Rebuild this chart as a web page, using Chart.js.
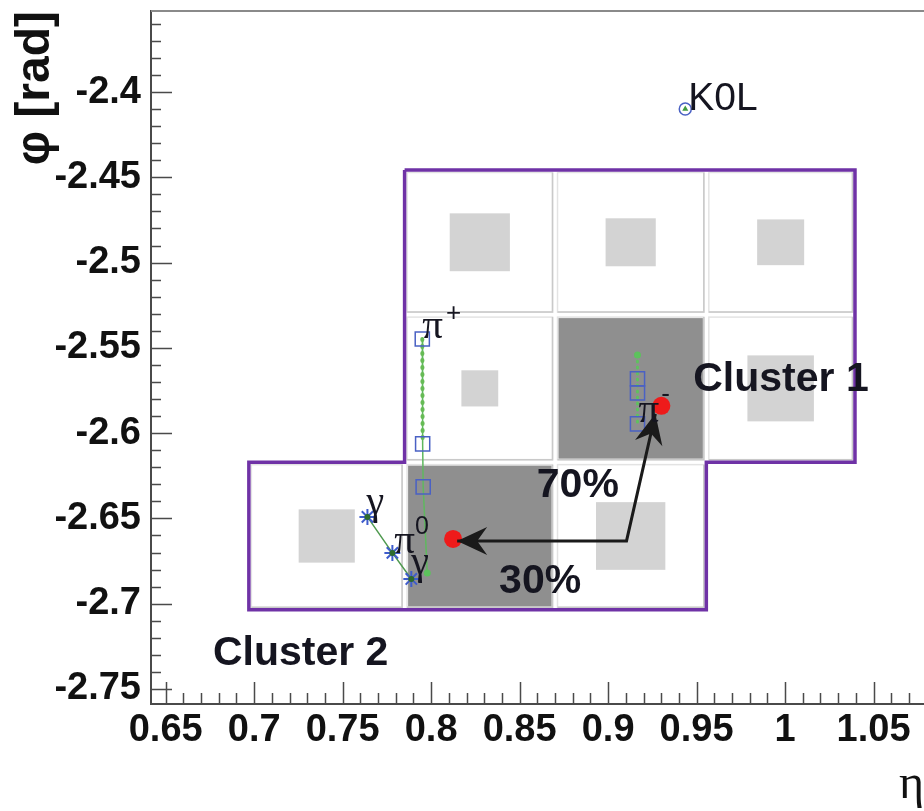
<!DOCTYPE html>
<html><head><meta charset="utf-8">
<script src="https://cdn.jsdelivr.net/npm/chart.js@4/dist/chart.umd.min.js"></script>
<style>html,body{margin:0;padding:0;background:#fff;overflow:hidden}#wrap{width:924px;height:811px;position:relative;overflow:hidden}canvas{display:block}</style>
</head><body><div id="wrap"><canvas id="c"></canvas></div>
<script>
// ---------------- data ----------------
const xTicks = [0.65, 0.7, 0.75, 0.8, 0.85, 0.9, 0.95, 1, 1.05];
const yTicks = [-2.75, -2.7, -2.65, -2.6, -2.55, -2.5, -2.45, -2.4];

// calorimeter cell grid (eta / phi boundaries)
const etaEdges = [0.697, 0.785, 0.870, 0.9555, 1.0395];
const phiEdges = [-2.4457, -2.5305, -2.6170, -2.7036];
// cells: column / row index into the edges, relative energy, seed flag
const cellCol    = [1, 2, 3, 1, 2, 3, 0, 1, 2];
const cellRow    = [0, 0, 0, 1, 1, 1, 2, 2, 2];
const cellEnergy = [0.16, 0.11, 0.10, 0.06, 1.0, 0.20, 0.13, 1.0, 0.21];
const cellSeed   = [false, false, false, false, true, false, false, true, false];
// cluster outline vertices (edge indexes)
const outlineCol = [1, 4, 4, 3, 3, 0, 0, 1, 1];
const outlineRow = [0, 0, 2, 2, 3, 3, 2, 2, 0];

// pi+ track
const piPlusTrackEta = [0.795, 0.7952, 0.7955, 0.7978];
const piPlusTrackPhi = [-2.5448, -2.6063, -2.6315, -2.682];
const piPlusHitEta = [0.795, 0.7952, 0.7955];
const piPlusHitPhi = [-2.5448, -2.6063, -2.6315];
// pi- track
const piMinusTrackEta = [0.9166, 0.9166];
const piMinusTrackPhi = [-2.5542, -2.5946];
const piMinusHitEta = [0.9166, 0.9166, 0.9166];
const piMinusHitPhi = [-2.5682, -2.5764, -2.5946];
// pi0 -> gamma gamma
const photonEta = [0.7640, 0.7781, 0.7888];
const photonPhi = [-2.6491, -2.6702, -2.6855];
// cluster centroids (cluster 1, cluster 2)
const clusterEta = [0.9301, 0.8124];
const clusterPhi = [-2.584, -2.662];
// K0L
const k0lEta = [0.9436];
const k0lPhi = [-2.41];
// energy-sharing arrow: tip at cluster 1, corner, tip at cluster 2
const arrowEta = [0.9267, 0.9104, 0.8147];
const arrowPhi = [-2.5887, -2.6632, -2.6632];

// text annotations (anchored in eta / phi)
const SANS = '"Liberation Sans", Arial, Helvetica, sans-serif';
const SERIF = '"Liberation Serif", "Times New Roman", serif';
const notes = [
  {text: 'Cluster 1', eta: 0.9481, phi: -2.5753, font: 'bold 41px ' + SANS},
  {text: 'Cluster 2', eta: 0.6767, phi: -2.7359, font: 'bold 41px ' + SANS},
  {text: '70%', eta: 0.8597, phi: -2.6374, font: 'bold 41px ' + SANS},
  {text: '30%', eta: 0.8384, phi: -2.6937, font: 'bold 41px ' + SANS},
  {text: 'K0L', eta: 0.9453, phi: -2.4106, font: '39px ' + SANS},
  {text: 'π', eta: 0.795, phi: -2.5442, font: '41px ' + SERIF, sup: '+', supFont: '26px ' + SANS, supDx: 3, supDy: -17},
  {text: 'π', eta: 0.9172, phi: -2.5934, font: '41px ' + SERIF, sup: '-', supFont: '26px ' + SANS, supDx: 2, supDy: -20},
  {text: 'π', eta: 0.7792, phi: -2.6702, font: '41px ' + SERIF, sup: '0', supFont: '25px ' + SANS, supDx: 0, supDy: -19},
  {text: 'γ', eta: 0.7635, phi: -2.6474, font: '40px ' + SERIF},
  {text: 'γ', eta: 0.7888, phi: -2.6825, font: '40px ' + SERIF}
];

const zip = (a, b) => a.map((v, i) => ({x: v, y: b[i]}));

// ---------------- plugins ----------------
const cellsPlugin = {
  id: 'cells',
  beforeDatasetsDraw(chart) {
    const {ctx, chartArea: ca, scales: {x, y}} = chart;
    ctx.save();
    ctx.beginPath(); ctx.rect(ca.left, ca.top, ca.width, ca.height); ctx.clip();
    for (let i = 0; i < cellCol.length; i++) {
      const x0 = x.getPixelForValue(etaEdges[cellCol[i]]);
      const x1 = x.getPixelForValue(etaEdges[cellCol[i] + 1]);
      const y0 = y.getPixelForValue(phiEdges[cellRow[i]]);
      const y1 = y.getPixelForValue(phiEdges[cellRow[i] + 1]);
      const g = 2.5;
      ctx.fillStyle = '#ffffff';
      ctx.fillRect(x0 + g, y0 + g, x1 - x0 - 2 * g, y1 - y0 - 2 * g);
      ctx.lineWidth = 1.5;
      ctx.strokeStyle = '#e3e3e3';
      ctx.strokeRect(x0 + g, y0 + g, x1 - x0 - 2 * g, y1 - y0 - 2 * g);
      ctx.strokeStyle = '#c9c9c9';
      ctx.beginPath();
      ctx.moveTo(x1 - g, y0 + g); ctx.lineTo(x1 - g, y1 - g); ctx.lineTo(x0 + g, y1 - g);
      ctx.stroke();
      if (cellSeed[i]) {
        ctx.fillStyle = '#8f8f8f';
        ctx.fillRect(x0 + g + 1, y0 + g + 1, x1 - x0 - 2 * g - 2, y1 - y0 - 2 * g - 2);
      } else {
        const s = Math.sqrt(cellEnergy[i]);
        const w = (x1 - x0) * s, h = (y1 - y0) * s;
        ctx.fillStyle = '#d3d3d3';
        ctx.fillRect((x0 + x1) / 2 - w / 2, (y0 + y1) / 2 - h / 2, w, h);
      }
    }
    ctx.restore();
  }
};

const frameTicksPlugin = {
  id: 'frameTicks',
  afterDatasetsDraw(chart) {
    const {ctx, chartArea: ca, scales: {x, y}} = chart;
    ctx.save();
    // top frame line
    ctx.strokeStyle = '#8a8a8a';
    ctx.lineWidth = 2;
    ctx.beginPath(); ctx.moveTo(ca.left, ca.top); ctx.lineTo(ca.right, ca.top); ctx.stroke();
    ctx.strokeStyle = '#4a4a4a';
    ctx.lineWidth = 1.5;
    ctx.beginPath();
    for (let k = Math.ceil(x.min * 100 - 1e-6); k <= Math.floor(x.max * 100 + 1e-6); k++) {
      const p = Math.round(x.getPixelForValue(k / 100)) + 0.5;
      const len = (k % 5 === 0) ? 22 : 11;
      ctx.moveTo(p, ca.bottom); ctx.lineTo(p, ca.bottom - len);
    }
    for (let k = Math.ceil(y.min * 100 - 1e-6); k <= Math.floor(y.max * 100 + 1e-6); k++) {
      const p = Math.round(y.getPixelForValue(k / 100)) + 0.5;
      const len = (Math.abs(k) % 5 === 0) ? 21 : 10;
      ctx.moveTo(ca.left, p); ctx.lineTo(ca.left + len, p);
    }
    ctx.stroke();
    ctx.restore();
  }
};

const arrowHeadPlugin = {
  id: 'arrowHeads',
  afterDatasetsDraw(chart) {
    const {ctx, scales: {x, y}} = chart;
    const head = (ti, fi) => {
      const tx = x.getPixelForValue(arrowEta[ti]), ty = y.getPixelForValue(arrowPhi[ti]);
      const fx = x.getPixelForValue(arrowEta[fi]), fy = y.getPixelForValue(arrowPhi[fi]);
      const a = Math.atan2(ty - fy, tx - fx);
      const L = 30, W = 14, N = 20;
      const c = Math.cos(a), s = Math.sin(a);
      const pt = (l, w) => [tx - l * c - w * s, ty - l * s + w * c];
      ctx.beginPath();
      ctx.moveTo(tx, ty);
      let p = pt(L, W); ctx.lineTo(p[0], p[1]);
      p = pt(N, 0); ctx.lineTo(p[0], p[1]);
      p = pt(L, -W); ctx.lineTo(p[0], p[1]);
      ctx.closePath();
      ctx.fill();
    };
    ctx.save();
    ctx.fillStyle = '#1a1a1a';
    head(0, 1);
    head(2, 1);
    ctx.restore();
  }
};

const notesPlugin = {
  id: 'notes',
  afterDatasetsDraw(chart) {
    const {ctx, scales: {x, y}} = chart;
    ctx.save();
    ctx.textAlign = 'left';
    ctx.textBaseline = 'alphabetic';
    ctx.fillStyle = '#151520';
    notes.forEach(n => {
      const px = x.getPixelForValue(n.eta), py = y.getPixelForValue(n.phi);
      ctx.font = n.font;
      ctx.fillText(n.text, px, py);
      if (n.sup) {
        const w = ctx.measureText(n.text).width;
        ctx.font = n.supFont;
        ctx.fillText(n.sup, px + w + n.supDx, py + n.supDy);
      }
    });
    ctx.restore();
  }
};

// ---------------- chart ----------------
const tickFont = {family: SANS, size: 38, weight: 'bold'};

new Chart(document.getElementById('c'), {
  type: 'scatter',
  data: {
    datasets: [
      {label: 'cluster outline', data: zip(outlineCol.map(c => etaEdges[c]), outlineRow.map(r => phiEdges[r])),
       showLine: true, borderColor: '#6f32a6', borderWidth: 3.5, pointRadius: 0, fill: false, order: 10},
      {label: 'π+ track', data: zip(piPlusTrackEta, piPlusTrackPhi), showLine: true,
       borderColor: '#5fb85f', borderWidth: 1.5, pointRadius: [0, 0, 0, 3.5], pointBackgroundColor: '#5cc25c',
       pointBorderWidth: 0, order: 6},
      {label: 'π+ extrapolation', data: zip(piPlusHitEta.slice(0, 2), piPlusHitPhi.slice(0, 2)), showLine: true,
       borderColor: '#66bb55', borderWidth: 4, borderDash: [1, 6], borderCapStyle: 'round', pointRadius: 0, order: 5},
      {label: 'π+ hits', data: zip(piPlusHitEta, piPlusHitPhi), pointStyle: 'rect', pointRadius: 10,
       borderColor: '#4a61c4', backgroundColor: 'rgba(0,0,0,0)', pointBorderWidth: 1.5, order: 4},
      {label: 'π- track', data: zip(piMinusTrackEta, piMinusTrackPhi), showLine: true,
       borderColor: '#5fc05f', borderWidth: 3, borderDash: [1, 5], borderCapStyle: 'round',
       pointRadius: [3.5, 0], pointBackgroundColor: '#5cc25c', pointBorderWidth: 0, order: 5},
      {label: 'π- hits', data: zip(piMinusHitEta, piMinusHitPhi), pointStyle: 'rect', pointRadius: 10,
       borderColor: '#4a61c4', backgroundColor: 'rgba(0,0,0,0)', pointBorderWidth: 1.5, order: 4},
      {label: 'γ', data: zip(photonEta, photonPhi), showLine: true, borderColor: '#4f9a4f', borderWidth: 1.5,
       pointStyle: 'star', pointRadius: 8, pointBorderColor: '#3e5ccc', pointBorderWidth: 2, order: 3},
      {label: 'γ core', data: zip(photonEta, photonPhi), pointStyle: 'circle', pointRadius: 3,
       backgroundColor: '#2d6b2d', borderWidth: 0, order: 2},
      {label: 'K0L', data: zip(k0lEta, k0lPhi), pointStyle: 'circle', pointRadius: 6,
       borderColor: '#4a61c4', backgroundColor: 'rgba(0,0,0,0)', pointBorderWidth: 1.5, order: 3},
      {label: 'K0L core', data: zip(k0lEta, k0lPhi), pointStyle: 'triangle', pointRadius: 3.5,
       backgroundColor: '#3f9a3f', borderWidth: 0, order: 2},
      {label: 'cluster centroid', data: zip(clusterEta, clusterPhi), pointStyle: 'circle', pointRadius: 9,
       backgroundColor: '#ee1b1b', borderWidth: 0, order: 2},
      {label: 'energy sharing', data: zip(arrowEta, arrowPhi), showLine: true, borderColor: '#1a1a1a',
       borderWidth: 3, pointRadius: 0, borderJoinStyle: 'miter', order: 1}
    ]
  },
  options: {
    responsive: true,
    maintainAspectRatio: false,
    animation: false,
    layout: {autoPadding: false, padding: {top: 11, right: 0, left: 0, bottom: 0}},
    plugins: {legend: {display: false}, tooltip: {enabled: false}},
    scales: {
      x: {
        type: 'linear', min: 0.6417, max: 1.0785,
        afterBuildTicks: s => { s.ticks = xTicks.map(v => ({value: v})); },
        afterFit: s => { s.height = 107; s.paddingLeft = 0; s.paddingRight = 0; },
        grid: {display: false, drawTicks: false},
        border: {display: true, color: '#4a4a4a', width: 2},
        ticks: {autoSkip: false, maxRotation: 0, minRotation: 0, padding: 4, color: '#111',
                font: tickFont, callback: v => String(v)},
        title: {display: true, text: 'η', align: 'end', color: '#111',
                font: {family: SERIF, size: 48}, padding: {top: 0, bottom: -3}}
      },
      y: {
        type: 'linear', min: -2.7588, max: -2.3525,
        afterBuildTicks: s => { s.ticks = yTicks.map(v => ({value: v})); },
        afterFit: s => { s.width = 151; s.paddingTop = 0; s.paddingBottom = 0; },
        grid: {display: false, drawTicks: false},
        border: {display: true, color: '#4a4a4a', width: 2},
        ticks: {autoSkip: false, padding: 10, color: '#111', font: tickFont, callback: v => String(v)},
        title: {display: true, text: 'φ [rad]', align: 'end', color: '#111',
                font: {family: SANS, size: 48, weight: 'bold'}, padding: {top: 7, bottom: 0}}
      }
    }
  },
  plugins: [cellsPlugin, frameTicksPlugin, arrowHeadPlugin, notesPlugin]
});
</script>
</body></html>
